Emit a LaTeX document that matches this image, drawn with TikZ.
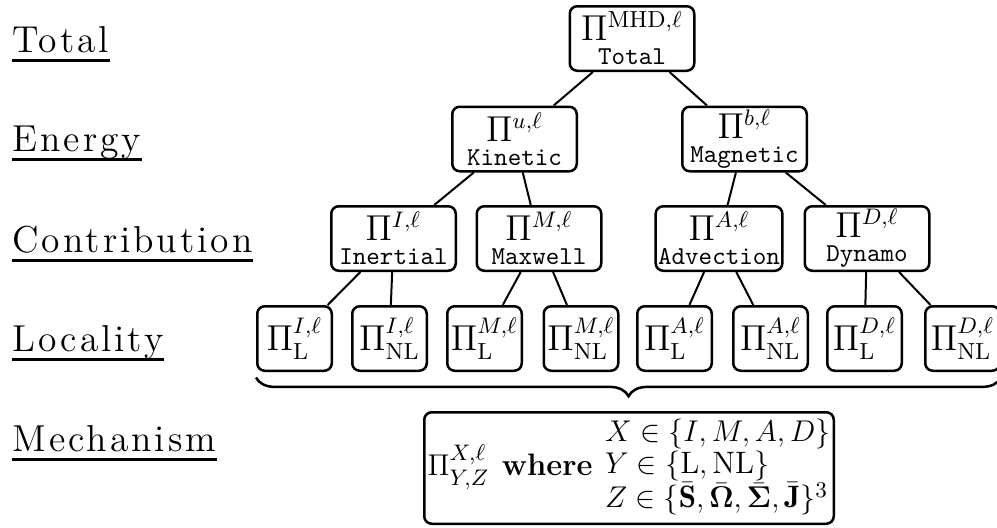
\documentclass[tikz,border=0pt]{standalone}
\usepackage{amsmath,amssymb}
\usepackage{fontspec}
\newfontfamily\lblfont{lmroman12-regular.otf}[LetterSpace=8]
\usetikzlibrary{decorations.pathreplacing}
\newcommand{\bx}[2]{{\fontsize{13.3}{12}\selectfont$#1$}\\[-2.4pt]{\fontsize{10.3}{12}\selectfont\texttt{#2}}}
\newcommand{\lf}[1]{{\fontsize{13.3}{14}\selectfont$#1$}}
\begin{document}
\begin{tikzpicture}[x=0.4pt,y=-0.4pt,
  box/.style={draw, line width=1pt, rounded corners=3pt, minimum width=49.8pt,
    minimum height=25.8pt, inner sep=1pt, align=center},
  leaf/.style={box, minimum width=29.8pt},
  lbl/.style={anchor=base west, inner sep=0pt, font=\lblfont\fontsize{15}{18}\selectfont},
  uline/.style={line width=1.1pt},
  edge/.style={line width=0.8pt}]
\useasboundingbox (0,0) rectangle (997,527);

% level labels
\node[lbl] (lt) at (12,52) {Total};
\node[lbl] (le) at (12,151) {Energy};
\node[lbl] (lc) at (12,252) {Contribution};
\node[lbl] (ll) at (12,351) {Locality};
\node[lbl] (lm) at (12,451) {Mechanism};
\foreach \n in {lt,le,lc,ll,lm}
  \draw[uline] ([yshift=-3.3pt]\n.base west) -- ([yshift=-3.3pt]\n.base east);

% tree
\node[box] (tot) at (632,38.5) {\bx{\Pi^{\mathrm{MHD},\ell}}{Total}};
\node[box] (kin) at (514.5,139) {\bx{\Pi^{u,\ell}}{Kinetic}};
\node[box] (mag) at (744.5,139) {\bx{\Pi^{b,\ell}}{Magnetic}};
\node[box] (ine) at (393.5,238.5) {\bx{\Pi^{I,\ell}}{Inertial}};
\node[box] (max) at (539,238.5) {\bx{\Pi^{M,\ell}}{Maxwell}};
\node[box] (adv) at (719,238.5) {\bx{\Pi^{A,\ell}}{Advection}};
\node[box] (dyn) at (867,238.5) {\bx{\Pi^{D,\ell}}{Dynamo}};

\node[leaf] (l1) at (294.5,338.5) {\lf{\Pi^{I,\ell}_{\mathrm{L}}}};
\node[leaf] (l2) at (389.5,338.5) {\lf{\Pi^{I,\ell}_{\mathrm{NL}}}};
\node[leaf] (l3) at (484.5,338.5) {\lf{\Pi^{M,\ell}_{\mathrm{L}}}};
\node[leaf] (l4) at (581,338.5) {\lf{\Pi^{M,\ell}_{\mathrm{NL}}}};
\node[leaf] (l5) at (674.5,338.5) {\lf{\Pi^{A,\ell}_{\mathrm{L}}}};
\node[leaf] (l6) at (770.5,338.5) {\lf{\Pi^{A,\ell}_{\mathrm{NL}}}};
\node[leaf] (l7) at (864.5,338.5) {\lf{\Pi^{D,\ell}_{\mathrm{L}}}};
\node[leaf] (l8) at (962.5,338.5) {\lf{\Pi^{D,\ell}_{\mathrm{NL}}}};

\draw[edge] (tot) -- (kin);
\draw[edge] (tot) -- (mag);
\draw[edge] (kin) -- (ine);
\draw[edge] (kin) -- (max);
\draw[edge] (mag) -- (adv);
\draw[edge] (mag) -- (dyn);
\draw[edge] (ine) -- (l1);
\draw[edge] (ine) -- (l2);
\draw[edge] (max) -- (l3);
\draw[edge] (max) -- (l4);
\draw[edge] (adv) -- (l5);
\draw[edge] (adv) -- (l6);
\draw[edge] (dyn) -- (l7);
\draw[edge] (dyn) -- (l8);

% brace
\draw[line width=1pt, decorate, decoration={brace, mirror, amplitude=7.5pt}]
  ([yshift=-2.2pt]l1.south west) -- ([yshift=-2.2pt]l8.south east);

% mechanism
\node[box, minimum width=163.8pt, minimum height=44.6pt, inner sep=1pt, font=\fontsize{12.4}{12.4}\selectfont] (mech) at (629,468)
  {$\Pi^{X,\ell}_{Y,Z}$\hspace{5pt}\textbf{where}\hspace{5pt}$\begin{array}{@{}l@{}}
    X\in\{I,M,A,D\}\\
    Y\in\{\mathrm{L},\mathrm{NL}\}\\
    Z\in\{\bar{\mathbf{S}},\bar{\boldsymbol{\Omega}},\bar{\boldsymbol{\Sigma}},\bar{\mathbf{J}}\}^3
  \end{array}$};
\end{tikzpicture}
\end{document}
